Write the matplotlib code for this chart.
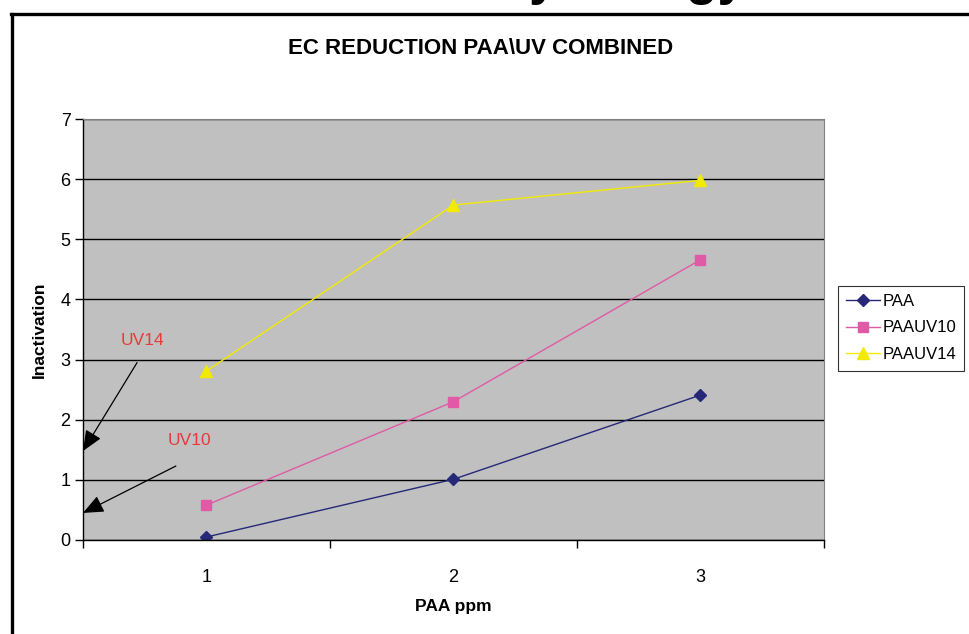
import matplotlib.pyplot as plt
from matplotlib.lines import Line2D

# datos
dosis = [1, 2, 3]
paa = [0.05, 1.01, 2.41]
paauv10 = [0.58, 2.30, 4.66]
paauv14 = [2.81, 5.57, 5.98]
series = ['PAA', 'PAAUV10', 'PAAUV14']

plt.rcParams['font.family'] = ['Liberation Sans', 'DejaVu Sans']

W, H = 969, 634
fig = plt.figure(figsize=(W / 100, H / 100), dpi=100)
ax = fig.add_axes([83 / W, 1 - 540 / H, (824 - 83) / W, (540 - 119) / H])
ax.set_facecolor('#C0C0C0')

# marco de la diapositiva
fig.add_artist(Line2D([12 / W, 12 / W], [1 - 14 / H, -0.01], color='black', lw=2.4,
                      transform=fig.transFigure))
fig.add_artist(Line2D([11 / W, 1.01], [1 - 14 / H, 1 - 14 / H], color='black', lw=2.4,
                      transform=fig.transFigure))
# titulo de la diapositiva (cortado arriba, como en la original)
fig.text(620 / W, 1 + 6 / H, 'Hydrology', ha='center', va='baseline',
         fontsize=37, fontweight='bold', color='black')

ax.plot(dosis, paa, color='#262878', marker='D', markersize=6, lw=1, label=series[0])
ax.plot(dosis, paauv10, color='#E05AA6', marker='s', markersize=7, lw=1, label=series[1])
ax.plot(dosis, paauv14, color='#F2EA00', marker='^', markersize=8, lw=1, label=series[2])

ax.set_xlim(0.5, 3.5)
ax.set_ylim(0, 7)
ax.set_yticks(range(0, 8))
ax.yaxis.grid(True, color='black', lw=1)
ax.set_axisbelow(True)

ax.set_xticks([0.5, 1.5, 2.5, 3.5])
ax.set_xticklabels([])
ax.set_xticks(dosis, minor=True)
ax.set_xticklabels([str(d) for d in dosis], minor=True)
ax.tick_params(axis='x', which='major', length=6, width=1, direction='out')
ax.tick_params(axis='x', which='minor', length=0, pad=21, labelsize=13)
ax.tick_params(axis='y', length=6, width=1, pad=3, labelsize=13)

for s in ['top', 'right']:
    ax.spines[s].set_color('#808080')
for s in ['left', 'bottom']:
    ax.spines[s].set_color('black')
    ax.spines[s].set_linewidth(1)

ax.set_xlabel('PAA ppm', fontsize=12.5, fontweight='bold', labelpad=9)
ax.set_ylabel('Inactivation', fontsize=12.5, fontweight='bold', labelpad=10)

fig.text(481 / W, 1 - 48 / H, 'EC REDUCTION PAA\\UV COMBINED', ha='center', va='center',
         fontsize=16, fontweight='bold')

# flechas UV14 / UV10
flecha = dict(arrowstyle='-|>,head_length=0.7,head_width=0.3', color='black',
              lw=0.9, mutation_scale=18, shrinkA=0, shrinkB=0)
ax.annotate('', xy=(0.5, 1.48), xytext=(0.719, 2.95), arrowprops=flecha)
ax.annotate('', xy=(0.5, 0.45), xytext=(0.876, 1.23), arrowprops=flecha)
ax.text(0.739, 3.31, 'UV14', color='#E8393C', fontsize=12.5, ha='center', va='center')
ax.text(0.929, 1.65, 'UV10', color='#E8393C', fontsize=12.5, ha='center', va='center')

leg = ax.legend(loc='center left', bbox_to_anchor=(838 / W, 1 - 328 / H),
                bbox_transform=fig.transFigure, frameon=True, fancybox=False,
                edgecolor='black', fontsize=12, handlelength=2.0, borderpad=0.5,
                labelspacing=0.7, handletextpad=0.15, borderaxespad=0)
leg.get_frame().set_linewidth(0.8)

fig.savefig('out.png', dpi=100)
